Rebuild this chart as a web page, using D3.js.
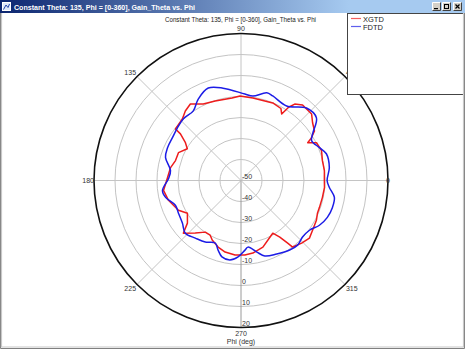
<!DOCTYPE html>
<html>
<head>
<meta charset="utf-8">
<script src="https://cdn.jsdelivr.net/npm/d3@7"></script>
<style>
  body { margin: 0; background: #fff; }
  svg { display: block; }
</style>
</head>
<body>
<script>
// data: phi in degrees, gain in dB
const seriesNames = ["XGTD", "FDTD"];
const seriesColors = ["#ee1c1c", "#1c1ce6"];

const xgtdPhi = [0, 6.8, 13.7, 20.3, 26.6, 29.5, 31, 34, 38.9, 43.3, 50.8, 54.9, 57, 58.5, 61, 67.7, 81.8, 90.7,
  96.2, 108, 116.3, 123.5, 128.7, 133.6, 141.8, 142.4, 145.8, 149.4, 156, 163.1, 169.6, 177.7,
  187.3, 195.3, 205.5, 211.4, 218.5, 222.4, 229, 235.3, 240.6, 244.2, 251, 257.5, 265.4,
  273, 279.3, 288.2, 297, 301.1, 304.4, 306.7, 307.8, 314.1, 319.9, 325.2, 332.2, 336.8, 341.1, 348.3, 355.2];
const xgtdGain = [-10.3, -10.0, -10.1, -9.1, -9.8, -13.5, -11, -7.8, -6.2, -3.8, -3.6, -5.5, -8.4, -12.9, -10.8, -10.1, -10.3, -9.8,
  -10.5, -10.2, -9.4, -6.3, -7.6, -9.5, -10.3, -13.6, -18, -20.3, -17.4, -17.4, -15.9, -15,
  -12.8, -14.2, -17, -20.1, -17.4, -12.8, -16.8, -20.1, -20.1, -18.5, -16.5, -15.1, -14.4,
  -14.5, -15, -16.6, -19.7, -20.7, -17.3, -12.8, -9.9, -8.5, -7.4, -8.5, -9.4, -10.4, -10.5, -10.4, -10.1];

const fdtdPhi = [0, 8.3, 17.4, 22.7, 29.4, 33.1, 39.7, 47.9, 58.5, 69.4, 73.6, 82, 87.4,
  101, 109.5, 117.7, 124.4, 133, 140.4, 148, 156, 163, 172, 178.4,
  187.2, 192.6, 200.7, 207.6, 216, 223.4, 231.6, 239.9, 247.6, 251.8, 256, 262, 267.8,
  273.3, 276, 282.5, 287.5, 295.9, 305, 311.2, 317.4, 324, 330.3, 336.9, 343.6, 349.7, 355.5];
const fdtdGain = [-9.0, -7.5, -7.4, -9.5, -11.4, -9.3, -3.3, -3.5, -8.4, -7, -6.5, -9.4, -8.8,
  -5.2, -3.3, -6.2, -9.8, -9.8, -10.7, -11.5, -11.7, -12.4, -16.1, -15.5,
  -12.3, -13.2, -16.6, -16.4, -15.5, -13.5, -15, -16.1, -17.8, -15.1, -12.5, -11.8, -13.6,
  -16.8, -18.1, -15.1, -12.3, -11.1, -9.6, -9.1, -10.2, -9.7, -7, -5.3, -4.6, -4.8, -7.8];

const phiTicks = [0, 45, 90, 135, 180, 225, 270, 315];
const gainTicks = [-50, -40, -30, -20, -10, 0, 10, 20];

const windowTitle = "Constant Theta: 135, Phi = [0-360], Gain_Theta vs. Phi";
const chartTitle = "Constant Theta: 135, Phi = [0-360], Gain_Theta vs. Phi";
const axisTitle = "Phi (deg)";

const W = 465, H = 349;
const cx = 241, cy = 180.5, R = 147;
const font = "'Liberation Sans', Arial, sans-serif";

const r = d3.scaleLinear().domain([-50, 20]).range([0, R]);
const toRad = d => d * Math.PI / 180;

const svg = d3.select("body").append("svg")
  .attr("width", W)
  .attr("height", H)
  .style("font-family", font);

svg.append("rect").attr("width", W).attr("height", H).attr("fill", "#fff");

const plot = svg.append("g");

// rings
plot.append("g")
  .selectAll("circle")
  .data(gainTicks.slice(1, -1))
  .join("circle")
  .attr("cx", cx).attr("cy", cy)
  .attr("r", d => r(d))
  .attr("fill", "none")
  .attr("stroke", "#c4c4c4")
  .attr("stroke-width", 1);

// spokes
plot.append("g")
  .selectAll("line")
  .data(phiTicks)
  .join("line")
  .attr("x1", cx).attr("y1", cy)
  .attr("x2", d => cx + R * Math.cos(toRad(d)))
  .attr("y2", d => cy - R * Math.sin(toRad(d)))
  .attr("stroke", d => d === 270 ? "#9a9a9a" : "#c4c4c4")
  .attr("stroke-width", 1);

// outer circle
plot.append("circle")
  .attr("cx", cx).attr("cy", cy).attr("r", R)
  .attr("fill", "none")
  .attr("stroke", "#111")
  .attr("stroke-width", 1.6);

// curves
const angle = d3.scaleLinear().domain([0, 360]).range([Math.PI / 2, Math.PI / 2 - 2 * Math.PI]);
const series = [
  { name: seriesNames[0], color: seriesColors[0], phi: xgtdPhi, gain: xgtdGain, curve: d3.curveLinearClosed },
  { name: seriesNames[1], color: seriesColors[1], phi: fdtdPhi, gain: fdtdGain, curve: d3.curveCatmullRomClosed.alpha(0.5) }
];

series.forEach(s => {
  const line = d3.lineRadial()
    .angle(i => angle(s.phi[i]))
    .radius(i => r(s.gain[i]))
    .curve(s.curve);
  plot.append("path")
    .attr("transform", `translate(${cx},${cy})`)
    .attr("d", line(d3.range(s.phi.length)))
    .attr("fill", "none")
    .attr("stroke", s.color)
    .attr("stroke-width", 1.5)
    .attr("stroke-linejoin", "round");
});

// ring labels down the 270 spoke
plot.append("g")
  .selectAll("text")
  .data(gainTicks)
  .join("text")
  .attr("x", cx + 1)
  .attr("y", d => cy + r(d) - 2)
  .attr("font-size", 7)
  .attr("fill", "#333")
  .text(d => d);

// angle labels
const labelPos = {
  0: ["start", -2, 2.5], 45: ["start", 1, -2], 90: ["middle", 0, -3], 135: ["end", -1, -2],
  180: ["end", 0, 2.5], 225: ["end", -1, 7], 270: ["middle", 0, 8], 315: ["start", 1, 7]
};
plot.append("g")
  .selectAll("text")
  .data(phiTicks)
  .join("text")
  .attr("x", d => cx + R * Math.cos(toRad(d)) + labelPos[d][1])
  .attr("y", d => cy - R * Math.sin(toRad(d)) + labelPos[d][2])
  .attr("text-anchor", d => labelPos[d][0])
  .attr("font-size", 7)
  .attr("fill", "#333")
  .text(d => d);

// chart title + axis title
svg.append("text")
  .attr("x", 240.5).attr("y", 21.5)
  .attr("text-anchor", "middle")
  .attr("font-size", 6.8)
  .attr("fill", "#222")
  .attr("textLength", 151).attr("lengthAdjust", "spacingAndGlyphs")
  .text(chartTitle);

svg.append("text")
  .attr("x", 241).attr("y", 343.5)
  .attr("text-anchor", "middle")
  .attr("font-size", 7)
  .attr("fill", "#333")
  .text(axisTitle);

// legend box
const legend = svg.append("g");
legend.append("rect")
  .attr("x", 347.5).attr("y", 13.5)
  .attr("width", 130).attr("height", 81)
  .attr("fill", "#fff")
  .attr("stroke", "#444");
series.forEach((s, i) => {
  const y = 18.5 + i * 8;
  legend.append("line")
    .attr("x1", 351).attr("x2", 361)
    .attr("y1", y).attr("y2", y)
    .attr("stroke", s.color).attr("stroke-width", 1.2).attr("opacity", 0.7);
  legend.append("text")
    .attr("x", 363).attr("y", y + 3)
    .attr("font-size", 7.5)
    .attr("fill", "#222")
    .text(s.name);
});

// window frame: title bar
const defs = svg.append("defs");
const grad = defs.append("linearGradient").attr("id", "tb").attr("x1", 0).attr("x2", 1);
grad.append("stop").attr("offset", 0).attr("stop-color", "#0c2670");
grad.append("stop").attr("offset", 0.75).attr("stop-color", "#a6caf0");
grad.append("stop").attr("offset", 1).attr("stop-color", "#a6caf0");

svg.append("rect").attr("x", 0).attr("y", 0).attr("width", W).attr("height", 13).attr("fill", "url(#tb)");

// small window icon
svg.append("rect").attr("x", 2.5).attr("y", 2.5).attr("width", 8).attr("height", 8)
  .attr("fill", "#dfe8f8").attr("stroke", "#fff");
svg.append("path").attr("d", "M3.5,9.5 L6,5 L8,7.5 L9.5,4").attr("fill", "none")
  .attr("stroke", "#2244aa").attr("stroke-width", 1);

svg.append("text")
  .attr("x", 14).attr("y", 10)
  .attr("font-size", 7.5)
  .attr("font-weight", "bold")
  .attr("fill", "#fff")
  .attr("textLength", 181).attr("lengthAdjust", "spacingAndGlyphs")
  .text(windowTitle);

// title bar buttons
const buttons = [432, 442, 453];
buttons.forEach((bx, i) => {
  const g = svg.append("g").attr("transform", `translate(${bx},2)`);
  g.append("rect").attr("width", 9).attr("height", 9).attr("fill", "#d4d0c8");
  g.append("path").attr("d", "M0.5,8.5 V0.5 H8.5").attr("fill", "none").attr("stroke", "#fff");
  g.append("path").attr("d", "M0.5,8.5 H8.5 V0.5").attr("fill", "none").attr("stroke", "#404040");
  if (i === 0) g.append("rect").attr("x", 2).attr("y", 6).attr("width", 4).attr("height", 1.2).attr("fill", "#000");
  if (i === 1) g.append("rect").attr("x", 2.5).attr("y", 2.5).attr("width", 4).attr("height", 4)
    .attr("fill", "none").attr("stroke", "#000").attr("stroke-width", 1);
  if (i === 2) g.append("path").attr("d", "M2.5,2.5 L6.5,6.5 M6.5,2.5 L2.5,6.5")
    .attr("stroke", "#000").attr("stroke-width", 1.2);
});

// outer window border
svg.append("path")
  .attr("d", `M0.5,13 V${H - 0.5} H${W - 0.5} V13`)
  .attr("fill", "none").attr("stroke", "#808080").attr("stroke-width", 1);
svg.append("path")
  .attr("d", `M1.5,13 V${H - 2} H${W - 1.5} V13`)
  .attr("fill", "none").attr("stroke", "#c8c8c8").attr("stroke-width", 1.2);
</script>
</body>
</html>
